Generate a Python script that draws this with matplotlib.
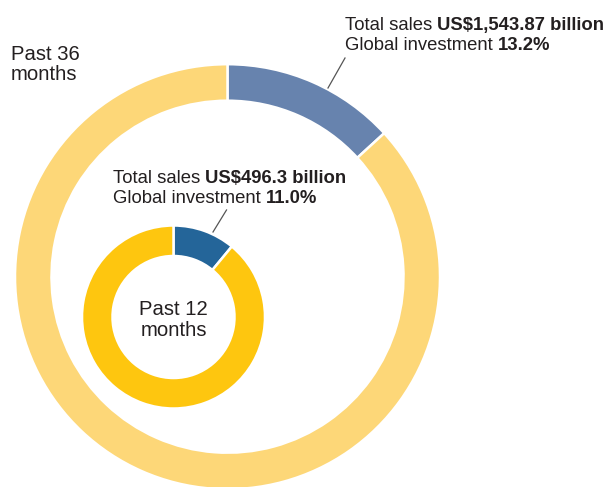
import matplotlib
matplotlib.use("Agg")
import matplotlib.pyplot as plt

# data
periods = ["Past 36\nmonths", "Past 12\nmonths"]
total_sales = ["US$1,543.87 billion", "US$496.3 billion"]
investment_share = [13.2, 11.0]

W, H = 610, 487
plt.rcParams['font.family'] = ['Liberation Sans', 'DejaVu Sans']
TXT = '#231f20'

fig = plt.figure(figsize=(W / 100, H / 100), dpi=100)
ax = fig.add_axes([0, 0, 1, 1])

# outer ring (36 months)
ax.pie([investment_share[0], 100 - investment_share[0]],
       colors=['#6783ae', '#fdd778'], startangle=90, counterclock=False,
       center=(227.5, H - 276.7), radius=212.5,
       wedgeprops=dict(width=36.5, edgecolor='white', linewidth=1.8))

# inner ring (12 months)
ax.pie([investment_share[1], 100 - investment_share[1]],
       colors=['#246599', '#fec60f'], startangle=90, counterclock=False,
       center=(173.5, H - 317), radius=91.5,
       wedgeprops=dict(width=30.5, edgecolor='white', linewidth=1.8))

ax.set_xlim(0, W)
ax.set_ylim(0, H)
ax.set_aspect('equal')
ax.axis('off')

# leader lines
ax.plot([345, 328], [H - 58, H - 88], color='#555555', lw=0.9)
ax.plot([226.5, 213], [H - 210, H - 232], color='#555555', lw=0.9)

# period labels, one line at a time
for i, line in enumerate(periods[0].split("\n")):
    ax.text(11, H - 59.5 - 21 * i, line, fontsize=14.6, color=TXT,
            ha='left', va='baseline')
for i, line in enumerate(periods[1].split("\n")):
    ax.text(173.5, H - 315 - 21.5 * i, line, fontsize=14.6, color=TXT,
            ha='center', va='baseline')

fig.canvas.draw()
renderer = fig.canvas.get_renderer()


def mixed(x, y, normal, bold, size):
    t1 = ax.text(x, y, normal, fontsize=size, color=TXT, ha='left', va='baseline')
    x1 = t1.get_window_extent(renderer).x1
    xd = ax.transData.inverted().transform((x1, 0))[0]
    ax.text(xd, y, bold, fontsize=size, color=TXT, fontweight='bold',
            ha='left', va='baseline')


mixed(345, H - 30, "Total sales ", total_sales[0], 13.3)
mixed(345, H - 50, "Global investment ", f"{investment_share[0]:.1f}%", 13.3)
mixed(113, H - 183, "Total sales ", total_sales[1], 13.3)
mixed(113, H - 203, "Global investment ", f"{investment_share[1]:.1f}%", 13.3)

fig.savefig("out.png", dpi=100)
